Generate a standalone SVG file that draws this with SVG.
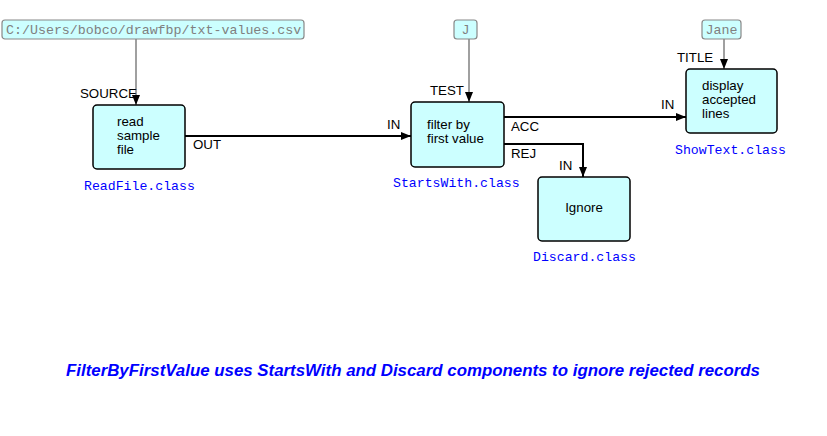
<svg xmlns="http://www.w3.org/2000/svg" width="827" height="436" viewBox="0 0 827 436">
<defs>
<marker id="ah" viewBox="0 0 10 8" refX="10" refY="4" markerWidth="10" markerHeight="8" markerUnits="userSpaceOnUse" orient="auto">
<path d="M0,0 L10,4 L0,8 Z" fill="#000"/>
</marker>
</defs>
<style>
.proc{fill:#ccffff;stroke:#000;stroke-width:1.5}
.iip{fill:#ccffff;stroke:#888;stroke-width:1.2}
.iipt{font-family:"Liberation Mono",monospace;font-size:13.3px;fill:#808080}
.t{font-family:"Liberation Sans",Arial,sans-serif;font-size:13.3px;fill:#000}
.cls{font-family:"Liberation Mono",monospace;font-size:13.2px;fill:#0000ff}
.c{fill:none;stroke:#000;stroke-width:2}
.g{fill:none;stroke:#808080;stroke-width:1.5}
.cap{font-family:"Liberation Sans",Arial,sans-serif;font-size:16.8px;font-style:italic;font-weight:bold;fill:#0000ff}
</style>
<rect width="827" height="436" fill="#fff"/>
<g id="connectors">
<path class="g" d="M136,39 V105" marker-end="url(#ah)"/>
<path class="g" d="M469,39 V102" marker-end="url(#ah)"/>
<path class="g" d="M724,39 V69" marker-end="url(#ah)"/>
<path class="c" d="M185,136 H411" marker-end="url(#ah)"/>
<path class="c" d="M504,117 H686" marker-end="url(#ah)"/>
<path class="c" d="M504,144 H583 V177" marker-end="url(#ah)"/>
<text class="t" x="80" y="98">SOURCE</text>
<text class="t" x="193" y="149">OUT</text>
<text class="t" x="387" y="129">IN</text>
<text class="t" x="430" y="95">TEST</text>
<text class="t" x="511" y="131">ACC</text>
<text class="t" x="511" y="158">REJ</text>
<text class="t" x="661" y="109">IN</text>
<text class="t" x="559" y="170">IN</text>
<text class="t" x="677" y="62">TITLE</text>
</g>
<g id="iip1">
<rect class="iip" x="2" y="20" width="302" height="19" rx="3"/>
<text class="iipt" x="6" y="34">C:/Users/bobco/drawfbp/txt-values.csv</text>
</g>
<g id="iip2">
<rect class="iip" x="454" y="20" width="23" height="19" rx="3"/>
<text class="iipt" x="465.5" y="34" text-anchor="middle">J</text>
</g>
<g id="iip3">
<rect class="iip" x="702" y="20" width="39" height="19" rx="3"/>
<text class="iipt" x="721.5" y="34" text-anchor="middle">Jane</text>
</g>
<g id="readfile">
<rect class="proc" x="93" y="105" width="92" height="64" rx="4"/>
<text class="t" x="117" y="126">read</text>
<text class="t" x="117" y="140">sample</text>
<text class="t" x="117" y="154">file</text>
<text class="cls" x="84" y="190">ReadFile.class</text>
</g>
<g id="startswith">
<rect class="proc" x="411" y="102" width="93" height="65" rx="4"/>
<text class="t" x="427" y="129">filter by</text>
<text class="t" x="427" y="143">first value</text>
<text class="cls" x="393" y="187">StartsWith.class</text>
</g>
<g id="showtext">
<rect class="proc" x="686" y="69" width="91" height="64" rx="4"/>
<text class="t" x="702" y="90">display</text>
<text class="t" x="702" y="104">accepted</text>
<text class="t" x="702" y="118">lines</text>
<text class="cls" x="675" y="154">ShowText.class</text>
</g>
<g id="discard">
<rect class="proc" x="538" y="177" width="92" height="64" rx="4"/>
<text class="t" x="584" y="212" text-anchor="middle">Ignore</text>
<text class="cls" x="533" y="261">Discard.class</text>
</g>
<text class="cap" x="66" y="376" textLength="694" lengthAdjust="spacingAndGlyphs">FilterByFirstValue uses StartsWith and Discard components to ignore rejected records</text>
</svg>
